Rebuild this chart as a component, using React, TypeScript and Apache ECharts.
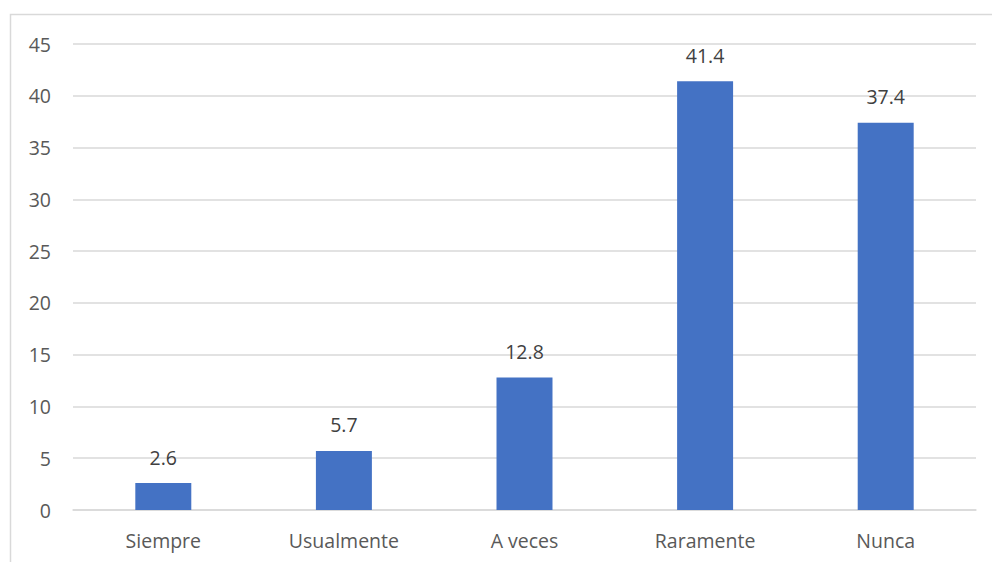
import React, { useEffect, useRef } from "react";
import * as echarts from "echarts";

const categories = ["Siempre", "Usualmente", "A veces", "Raramente", "Nunca"];
const values = [2.6, 5.7, 12.8, 41.4, 37.4];
const yTicks = [0, 5, 10, 15, 20, 25, 30, 35, 40, 45];

export default function App() {
  const ref = useRef<HTMLDivElement>(null);
  useEffect(() => {
    if (!ref.current) return;
    const chart = echarts.init(ref.current, null, { renderer: "svg" });
    chart.setOption({
      animation: false,
      textStyle: { fontFamily: "Open Sans" },
      graphic: [
        {
          type: "rect",
          shape: { x: 10.5, y: 14.5, width: 1000, height: 600 },
          style: { fill: "none", stroke: "#d9d9d9", lineWidth: 1.5 },
          silent: true,
        },
      ],
      grid: { left: 73, right: 16, top: 44, bottom: 52, containLabel: false },
      xAxis: {
        type: "category",
        data: categories,
        axisLine: { show: true, lineStyle: { color: "#d9d9d9", width: 1.5 } },
        axisTick: { show: false },
        axisLabel: { color: "#595959", fontSize: 19.5, margin: 20, fontFamily: "Open Sans" },
      },
      yAxis: {
        type: "value",
        min: yTicks[0],
        max: yTicks[yTicks.length - 1],
        interval: 5,
        axisLine: { show: false },
        axisTick: { show: false },
        splitLine: { lineStyle: { color: "#d9d9d9", width: 1.5 } },
        axisLabel: { color: "#595959", fontSize: 19.5, margin: 22, fontFamily: "Open Sans" },
      },
      series: [
        {
          type: "bar",
          data: values,
          barWidth: "31%",
          itemStyle: { color: "#4472c4" },
          label: {
            show: true,
            position: "top",
            distance: 16,
            color: "#404040",
            fontSize: 19.5,
            fontFamily: "Open Sans",
            formatter: (p: any) => p.value.toFixed(1),
          },
        },
      ],
    });
    return () => chart.dispose();
  }, []);
  return <div ref={ref} style={{ width: 992, height: 562, position: "absolute", left: 0, top: 0 }} />;
}
